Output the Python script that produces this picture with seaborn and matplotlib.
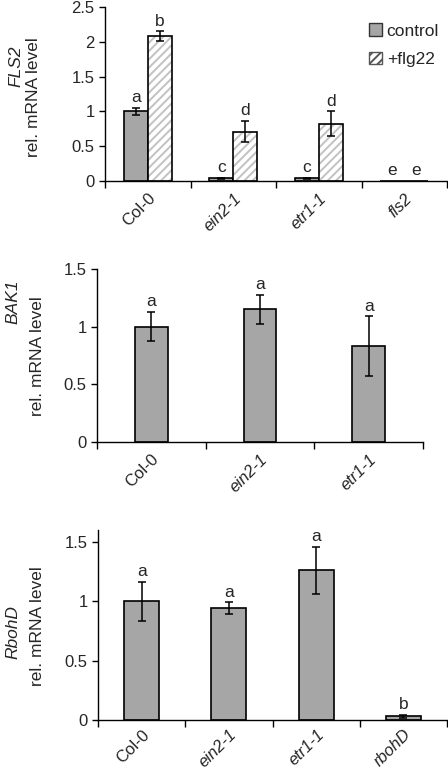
import numpy as np
import pandas as pd
import matplotlib
matplotlib.use('Agg')
import matplotlib.pyplot as plt
from matplotlib.patches import Patch, Rectangle
import seaborn as sns

# ---- data ----
fls2_lines = ['Col-0', 'ein2-1', 'etr1-1', 'fls2']
fls2_ctrl = [1.0, 0.04, 0.04, 0.005]
fls2_ctrl_err = [0.05, 0.01, 0.005, 0.0]
fls2_flg = [2.08, 0.71, 0.82, 0.005]
fls2_flg_err = [0.07, 0.15, 0.18, 0.0]
fls2_ctrl_letters = ['a', 'c', 'c', 'e']
fls2_flg_letters = ['b', 'd', 'd', 'e']

bak1_lines = ['Col-0', 'ein2-1', 'etr1-1']
bak1_vals = [1.0, 1.15, 0.83]
bak1_err = [0.125, 0.125, 0.26]
bak1_letters = ['a', 'a', 'a']

rboh_lines = ['Col-0', 'ein2-1', 'etr1-1', 'rbohD']
rboh_vals = [1.0, 0.94, 1.26, 0.03]
rboh_err = [0.165, 0.05, 0.20, 0.01]
rboh_letters = ['a', 'a', 'a', 'b']

italic_names = {'ein2-1', 'etr1-1', 'fls2', 'rbohD'}

GREY = '#a6a6a6'
HATCH_GREY = '#c2c2c2'
TICK_FS = 12
LABEL_FS = 12.5

sns.set_style('ticks')
plt.rcParams['font.family'] = ['Liberation Sans', 'DejaVu Sans']
plt.rcParams['font.size'] = TICK_FS
plt.rcParams['hatch.linewidth'] = 1.4

fig = plt.figure(figsize=(4.48, 7.73), dpi=100)
W, H = 448, 773


def add_axes(left, right, top, bottom):
    return fig.add_axes([left / W, 1 - bottom / H, (right - left) / W, (bottom - top) / H])


def style_axes(ax, labels, ymax, yticks, yticklabels, pad=7):
    n = len(labels)
    ax.set_xlim(-0.5, n - 0.5)
    ax.set_ylim(0, ymax)
    ax.set_yticks(yticks)
    ax.set_yticklabels(yticklabels)
    ax.set_xticks(range(n))
    ax.set_xticklabels(labels, rotation=45, ha='right', rotation_mode='anchor')
    for t, name in zip(ax.get_xticklabels(), labels):
        if name in italic_names:
            t.set_style('italic')
    ax.set_xticks(np.arange(n + 1) - 0.5, minor=True)
    ax.tick_params(axis='x', which='major', length=0, pad=pad, labelsize=TICK_FS)
    ax.tick_params(axis='x', which='minor', length=5, width=1, direction='out', color='black')
    ax.tick_params(axis='y', length=4, width=1, color='black', labelsize=TICK_FS)
    for s in ['top', 'right']:
        ax.spines[s].set_visible(False)
    for s in ['left', 'bottom']:
        ax.spines[s].set_color('black')
        ax.spines[s].set_linewidth(1.0)
    ax.set_xlabel('')
    ax.set_ylabel('')


def add_err_and_letters(ax, patches, vals, errs, letters):
    for p, v, e, l in zip(patches, vals, errs, letters):
        cx = p.get_x() + p.get_width() / 2
        if e > 0:
            ax.errorbar(cx, v, yerr=e, fmt='none', ecolor='black', elinewidth=1.1,
                        capsize=3, capthick=1.1, zorder=5)
        ax.annotate(l, (cx, v + e), xytext=(0, 2), textcoords='offset points',
                    ha='center', va='bottom', fontsize=LABEL_FS)


# ---- panel 1: FLS2 ----
ax1 = add_axes(105, 447, 7, 181)
df1 = pd.DataFrame({
    'line': fls2_lines * 2,
    'value': fls2_ctrl + fls2_flg,
    'treatment': ['control'] * 4 + ['+flg22'] * 4,
})
sns.barplot(data=df1, x='line', y='value', hue='treatment', order=fls2_lines,
            hue_order=['control', '+flg22'], palette=[GREY, 'white'],
            width=0.56, errorbar=None, edgecolor='black', linewidth=1.2,
            legend=False, ax=ax1)
ctrl_patches = list(ax1.containers[0])
flg_patches = list(ax1.containers[1])
for p in flg_patches:
    p.set_hatch('////')
    p.set_edgecolor(HATCH_GREY)
    p.set_linewidth(0)
    ax1.add_patch(Rectangle((p.get_x(), p.get_y()), p.get_width(), p.get_height(),
                            fill=False, edgecolor='black', linewidth=1.2, zorder=3))
add_err_and_letters(ax1, ctrl_patches, fls2_ctrl, fls2_ctrl_err, fls2_ctrl_letters)
add_err_and_letters(ax1, flg_patches, fls2_flg, fls2_flg_err, fls2_flg_letters)
style_axes(ax1, fls2_lines, 2.5, [0, 0.5, 1, 1.5, 2, 2.5], ['0', '0.5', '1', '1.5', '2', '2.5'])

handles = [Patch(facecolor=GREY, edgecolor='#333333', linewidth=1.0, label='control'),
           Patch(facecolor='white', edgecolor='#555555', hatch='////', linewidth=1.0, label='+flg22')]
fig.legend(handles=handles, loc='upper right', bbox_to_anchor=(1.015, 0.99), frameon=False,
           handlelength=0.7, handleheight=0.7, handletextpad=0.3, labelspacing=0.75,
           fontsize=LABEL_FS)

fig.text(16 / W, 1 - 66 / H, 'FLS2', rotation=90, ha='center', va='center',
         style='italic', fontsize=LABEL_FS)
fig.text(34 / W, 1 - 97 / H, 'rel. mRNA level', rotation=90, ha='center', va='center',
         fontsize=LABEL_FS)

# ---- panel 2: BAK1 ----
ax2 = add_axes(97, 423, 269, 442)
df2 = pd.DataFrame({'line': bak1_lines, 'value': bak1_vals})
sns.barplot(data=df2, x='line', y='value', order=bak1_lines, color=GREY, saturation=1,
            width=0.3, errorbar=None, edgecolor='black', linewidth=1.2, ax=ax2)
add_err_and_letters(ax2, list(ax2.containers[0]), bak1_vals, bak1_err, bak1_letters)
style_axes(ax2, bak1_lines, 1.5, [0, 0.5, 1, 1.5], ['0', '0.5', '1', '1.5'])
fig.text(13 / W, 1 - 302 / H, 'BAK1', rotation=90, ha='center', va='center',
         style='italic', fontsize=LABEL_FS)
fig.text(38 / W, 1 - 356 / H, 'rel. mRNA level', rotation=90, ha='center', va='center',
         fontsize=LABEL_FS)

# ---- panel 3: RbohD ----
ax3 = add_axes(98, 447, 530, 720)
df3 = pd.DataFrame({'line': rboh_lines, 'value': rboh_vals})
sns.barplot(data=df3, x='line', y='value', order=rboh_lines, color=GREY, saturation=1,
            width=0.4, errorbar=None, edgecolor='black', linewidth=1.2, ax=ax3)
add_err_and_letters(ax3, list(ax3.containers[0]), rboh_vals, rboh_err, rboh_letters)
style_axes(ax3, rboh_lines, 1.6, [0, 0.5, 1, 1.5], ['0', '0.5', '1', '1.5'], pad=5)
fig.text(13 / W, 1 - 632 / H, 'RbohD', rotation=90, ha='center', va='center',
         style='italic', fontsize=LABEL_FS)
fig.text(38 / W, 1 - 626 / H, 'rel. mRNA level', rotation=90, ha='center', va='center',
         fontsize=LABEL_FS)

fig.savefig('out.png', dpi=100)
